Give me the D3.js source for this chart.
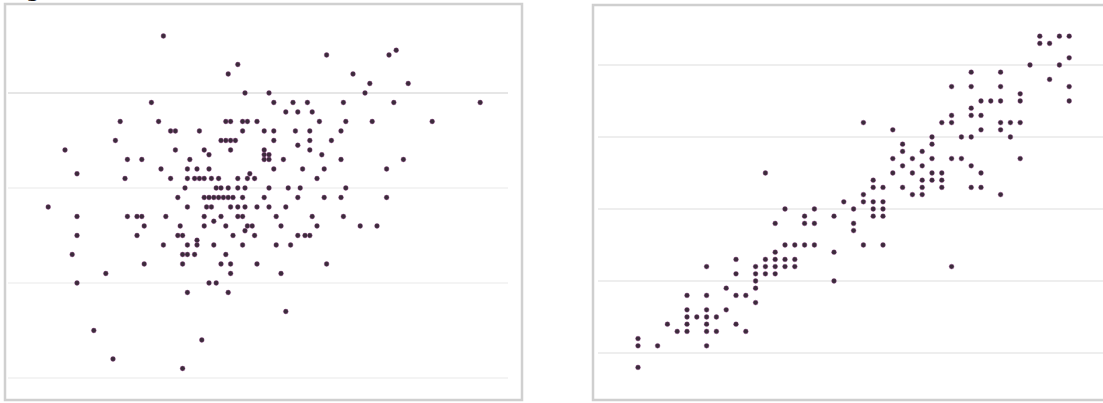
<!DOCTYPE html>
<html>
<head>
<meta charset="utf-8">
<script src="https://d3js.org/d3.v7.min.js"></script>
<style>
  body { margin: 0; background: #fff; }
</style>
</head>
<body>
<div id="chart"></div>
<script>
//---------------- data: left scatter (x, y) ----------------//
var leftX = [33,48.5,46.5,67,80,81.5,72.5,76,84,50,55,75,99,
  30.5,56,60,63,70.5,81,58.5,61,64,
  24,32,46,47,49.5,50.5,52.5,65.5,71,76.5,89,
  34.5,35.5,40.5,49.5,54,56,60.5,63.5,70,
  23,45,46,47,48,56,61,63.5,68,
  12.5,35.5,41.5,42.5,47,54,54,55,54,55,63.5,66,
  25.5,28.5,38.5,58,70,83,
  15,32.5,38,40,42.5,56,62,66.5,79.5,
  25,34.5,38,39.5,40.5,41.5,43,44.5,48.5,50.5,51,52,65,
  37.5,44,45,46.5,48.5,50,55,59,61.5,71,
  36,41.5,42.5,43.5,44.5,45.5,46.5,47.5,49.5,54,61,66.5,70,79.5,
  9,38,42,43,47,48.5,50,52.5,55,58.5,
  15,25.5,27.5,28.5,33.5,41.5,43.5,45,48.5,49.5,56.5,64,70.5,
  29,36.5,41.5,46,50.5,51.5,50,57.5,65,74,77.5,
  15,27.5,36,37,40,40,43.5,47.5,52,61,62.5,63.5,
  33,38,49.5,56.5,59.5,
  14,37,38,39.5,46,
  29,37,45,47,52.5,67,
  21,47,57.5,15,42.5,44,38,46.5,58.5,18.5,41,22.5,37];
var leftY = [36,33,32,34,34,34.5,32,31,31,30,30,30,29,
  29,29,29,29,29,29,28,28,28,
  27,27,27,27,27,27,27,27,27,27,27,
  26,26,26,26,26,26,26,26,26,
  25,25,25,25,25,25,24.5,25,25,
  24,24,24,23.5,24,24,23.5,23.5,23,23,24,23.5,
  23,23,23,23,23,23,
  21.5,22,22,22,22,22,22,22,22,
  21,21,21,21,21,21,21,21,21,21,21.5,21,21,
  20,20,20,20,20,20,20,20,20,20,
  19,19,19,19,19,19,19,19,19,19,19,19,19,19,
  18,18,18,18,18,18,18,18,18,18,
  17,17,17,17,17,17,16.5,17,17,17,17,17,17,
  16,16,16,16,16,16,15.5,16,16,16,16,
  15,15,15,15,14.5,14,14,15,15,15,15,15,
  14,14,14,14,14,
  13,13,13,13,13,
  12,12,12,12,12,12,
  11,11,11,10,10,10,9,9,7,5,4,2,1];

//---------------- data: right scatter (x, y) ---------------//
var rightX = [41,43,44,41,42,44,40,43,42,34,37,32,34,37,44,39,39,35,36,37,44,
  34,34,35,32,31,32,37,38,39,37,35,23,26,30,30,33,34,38,27,27,29,
  26,28,30,32,33,39,27,29,34,26,28,30,31,35,13,24,24,25,29,30,31,
  27,29,31,34,35,23,28,29,37,
  21,23,24,25,22,24,25,24,25,22,22,23,25,32,
  15,18,17,20,14,17,18,15,16,17,18,14,20,10,13,14,15,16,
  7,12,13,14,15,16,10,12,13,14,12,20,9,12,5,7,10,11,12,
  5,7,9,5,6,7,8,3,5,7,10,4,5,7,8,11,0,0,2,7,0];
var rightY = [54,54,54,53,53,51,50,50,48,49,49,47,47,47,47,46,45,45,45,45,45,
  44,43,43,43,42,42,42,42,42,41,41,42,41,40,39,40,40,40,39,38,38,
  37,37,37,37,37,37,36,36,36,35,35,35,35,35,35,34,33,33,34,34,34,
  33,33,33,33,33,32,32,32,32,
  31,31,31,31,30,30,30,29,29,28,27,25,25,22,
  30,30,29,29,28,28,28,25,25,25,25,24,24,23,23,23,23,23,
  22,22,22,22,22,22,21,21,21,21,20,20,19,19,18,18,18,18,17,
  16,16,16,15,15,15,15,14,14,14,14,13,13,13,13,13,12,11,11,11,8];

var leftTicks = [0, 10, 20, 30];
var rightTicks = [10, 20, 30, 40, 50];

//---------------- svg element ----------------//
var svg = d3.select('#chart').append('svg')
            .attr('width', 1103)
            .attr('height', 403);

//---------------- scales ----------------//
var xL = d3.scaleLinear().domain([0, 100]).range([5, 485]);
var yL = d3.scaleLinear().domain([0, 40]).range([378, -2]);
var xR = d3.scaleLinear().domain([0, 50]).range([638, 1128]);
var yR = d3.scaleLinear().domain([10, 50]).range([353, 65]);

// caption letter cut off at the very top, as in the reference
svg.append('text')
   .attr('x', 26).attr('y', -3)
   .style('font', 'bold 20px "DejaVu Sans", sans-serif')
   .style('fill', '#111')
   .text('g');

//---------------- left panel ----------------//
var left = svg.append('g');

left.selectAll('.gridL')
    .data(leftTicks)
    .enter().append('line')
    .attr('x1', 8).attr('x2', 508)
    .attr('y1', function(d){ return yL(d); })
    .attr('y2', function(d){ return yL(d); })
    .style('stroke', function(d){ return d == 30 ? '#dedede' : '#f0f0f0'; })
    .style('stroke-width', 1.5);

left.append('rect')
    .attr('x', 5).attr('y', 4)
    .attr('width', 517).attr('height', 396)
    .style('fill', 'none')
    .style('stroke', '#d0d0d0')
    .style('stroke-width', 2.5);

left.selectAll('.dotL')
    .data(leftX)
    .enter().append('circle')
    .attr('cx', function(d){ return xL(d); })
    .attr('cy', function(d, i){ return yL(leftY[i]); })
    .attr('r', 2.4)
    .style('fill', '#3a2c3a')
    .style('stroke', '#8a3a80')
    .style('stroke-opacity', 0.45)
    .style('stroke-width', 0.9);

//---------------- right panel ----------------//
var right = svg.append('g');

right.selectAll('.gridR')
    .data(rightTicks)
    .enter().append('line')
    .attr('x1', 598).attr('x2', 1103)
    .attr('y1', function(d){ return yR(d); })
    .attr('y2', function(d){ return yR(d); })
    .style('stroke', '#e8e8e8')
    .style('stroke-width', 1.5);

right.append('rect')
    .attr('x', 593).attr('y', 5)
    .attr('width', 520).attr('height', 395)
    .style('fill', 'none')
    .style('stroke', '#cfcfcf')
    .style('stroke-width', 2.5);

right.selectAll('.dotR')
    .data(rightX)
    .enter().append('circle')
    .attr('cx', function(d){ return xR(d); })
    .attr('cy', function(d, i){ return yR(rightY[i]); })
    .attr('r', 2.4)
    .style('fill', '#3a2c3a')
    .style('stroke', '#8a3a80')
    .style('stroke-opacity', 0.45)
    .style('stroke-width', 0.9);
</script>
</body>
</html>
